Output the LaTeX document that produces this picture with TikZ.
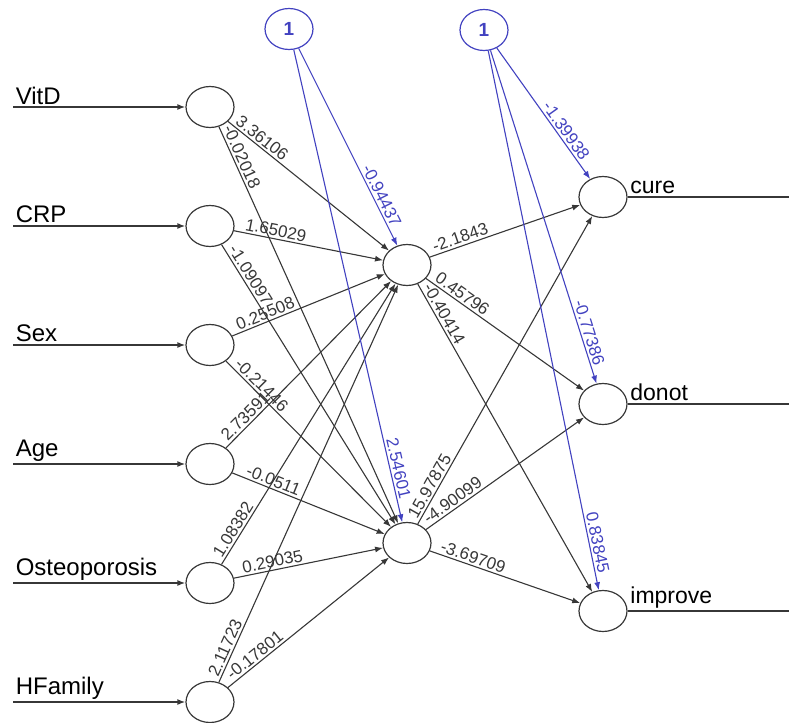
\documentclass[tikz,border=0pt]{standalone}
\usepackage{fontspec}
\setmainfont{Liberation Sans}
\usepackage{tikz}
\usetikzlibrary{shapes.geometric,arrows.meta,positioning}
\definecolor{biasblue}{RGB}{66,66,192}
\definecolor{edgegray}{RGB}{55,55,55}

\begin{document}
\begin{tikzpicture}[x=0.5pt,y=-0.5pt,
    neuron/.style={ellipse, draw=edgegray, line width=0.6pt, minimum width=24pt, minimum height=20.5pt, inner sep=0pt},
    biasnode/.style={neuron, draw=biasblue, text=biasblue, font=\fontsize{9.5}{10}\selectfont\bfseries},
    wedge/.style={draw=edgegray, line width=0.55pt, -{Latex[length=4pt,width=3pt]}},
    bedge/.style={wedge, draw=biasblue},
    wlabel/.style={sloped, above, inner sep=1pt, font=\fontsize{8.5}{9}\selectfont, text=edgegray},
    blabel/.style={wlabel, text=biasblue},
    inline/.style={draw=edgegray, line width=0.8pt, -{Latex[length=4pt,width=3pt]}},
    outline/.style={draw=edgegray, line width=0.8pt},
    varname/.style={above right, inner sep=1pt, font=\fontsize{12}{13}\selectfont},
    outname/.style={above right, inner sep=1pt, font=\fontsize{11.5}{12}\selectfont}]
    \useasboundingbox (0,0) rectangle (789,723);

    % input layer
    \node[neuron] (vitd) at (210,107) {};
    \node[neuron] (crp) at (210,226) {};
    \node[neuron] (sex) at (210,345) {};
    \node[neuron] (age) at (210,464) {};
    \node[neuron] (osteo) at (210,583) {};
    \node[neuron] (hfam) at (210,702) {};

    % hidden and output layers
    \node[neuron] (hidA) at (407,265) {};
    \node[neuron] (hidB) at (407,543) {};
    \node[neuron] (cure) at (603,197) {};
    \node[neuron] (donot) at (603,404) {};
    \node[neuron] (improve) at (603,611) {};

    % bias nodes
    \node[biasnode] (biasA) at (289,29) {1};
    \node[biasnode] (biasB) at (484,30) {1};

    % input lines
    \coordinate (invitd) at (13,107);
    \coordinate (incrp) at (13,226);
    \coordinate (insex) at (13,345);
    \coordinate (inage) at (13,464);
    \coordinate (inosteo) at (13,583);
    \coordinate (inhfam) at (13,702);
    \draw[inline] (invitd) node[varname] {VitD} -- (vitd);
    \draw[inline] (incrp) node[varname] {CRP} -- (crp);
    \draw[inline] (insex) node[varname] {Sex} -- (sex);
    \draw[inline] (inage) node[varname] {Age} -- (age);
    \draw[inline] (inosteo) node[varname] {Osteoporosis} -- (osteo);
    \draw[inline] (inhfam) node[varname] {HFamily} -- (hfam);

    % output lines
    \coordinate (outcure) at (789,197);
    \coordinate (outdonot) at (789,404);
    \coordinate (outimprove) at (789,611);
    \draw[outline] (cure.east) node[outname] {cure} -- (outcure);
    \draw[outline] (donot.east) node[outname] {donot} -- (outdonot);
    \draw[outline] (improve.east) node[outname] {improve} -- (outimprove);

    % input to hidden weights
    \draw[wedge] (vitd) -- (hidA) node[wlabel, pos=0.18] {3.36106};
    \draw[wedge] (vitd) -- (hidB) node[wlabel, pos=0.085] {-0.02018};
    \draw[wedge] (crp) -- (hidA) node[wlabel, pos=0.27] {1.65029};
    \draw[wedge] (crp) -- (hidB) node[wlabel, pos=0.126] {-1.09097};
    \draw[wedge] (sex) -- (hidA) node[wlabel, pos=0.237] {0.25508};
    \draw[wedge] (sex) -- (hidB) node[wlabel, pos=0.18] {-0.21446};
    \draw[wedge] (age) -- (hidA) node[wlabel, pos=0.155] {2.73591};
    \draw[wedge] (age) -- (hidB) node[wlabel, pos=0.25] {-0.0511};
    \draw[wedge] (osteo) -- (hidA) node[wlabel, pos=0.108] {1.08382};
    \draw[wedge] (osteo) -- (hidB) node[wlabel, pos=0.27] {0.29035};
    \draw[wedge] (hfam) -- (hidA) node[wlabel, pos=0.078] {2.11723};
    \draw[wedge] (hfam) -- (hidB) node[wlabel, pos=0.2] {-0.17801};

    % hidden to output weights
    \draw[wedge] (hidA) -- (cure) node[wlabel, pos=0.22] {-2.1843};
    \draw[wedge] (hidA) -- (donot) node[wlabel, pos=0.2] {0.45796};
    \draw[wedge] (hidA) -- (improve) node[wlabel, pos=0.11] {-0.40414};
    \draw[wedge] (hidB) -- (cure) node[wlabel, pos=0.11] {15.97875};
    \draw[wedge] (hidB) -- (donot) node[wlabel, pos=0.2] {-4.90099};
    \draw[wedge] (hidB) -- (improve) node[wlabel, pos=0.27] {-3.69709};

    % bias weights
    \draw[bedge] (biasA) -- (hidA) node[blabel, pos=0.765] {-0.94437};
    \draw[bedge] (biasA) -- (hidB) node[blabel, pos=0.89] {2.54601};
    \draw[bedge] (biasB) -- (cure) node[blabel, pos=0.67] {-1.39938};
    \draw[bedge] (biasB) -- (donot) node[blabel, pos=0.855] {-0.77386};
    \draw[bedge] (biasB) -- (improve) node[blabel, pos=0.915] {0.83845};
\end{tikzpicture}
\end{document}
